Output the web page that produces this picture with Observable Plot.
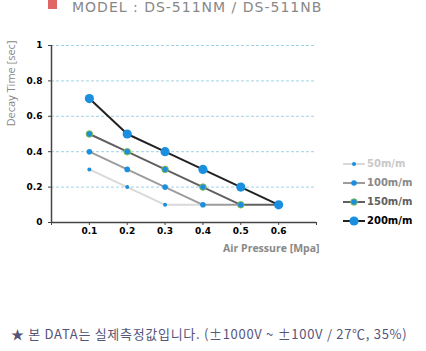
<!DOCTYPE html>
<html>
<head>
<meta charset="utf-8">
<script src="https://cdn.jsdelivr.net/npm/d3@7"></script>
<script src="https://cdn.jsdelivr.net/npm/@observablehq/plot@0.6"></script>
<style>
  html, body { margin: 0; padding: 0; background: #fff; }
  #wrap { position: relative; width: 426px; height: 351px; overflow: hidden; }
  #title { position: absolute; left: 48px; top: 0; height: 14px; font: 14px "DejaVu Sans", sans-serif; color: #888; white-space: nowrap; }
  #title .sq { position: absolute; left: 0; top: 0; width: 9px; height: 9px; background: #e06666; }
  #title .txt { position: absolute; left: 24px; top: -1.4px; line-height: 16px; letter-spacing: 1px; }
  #chart { position: absolute; left: 0; top: 0; }
  #legend { position: absolute; left: 343px; top: 0; }
  .li { position: absolute; left: 0; height: 12px; white-space: nowrap; font: bold 10px "DejaVu Sans", sans-serif; }
  .li svg { position: absolute; left: 0; top: 0; }
  .li span { position: absolute; left: 24px; top: -1px; line-height: 14px; }
  #foot { position: absolute; left: 11px; top: 326px; font: 13px "Noto Sans CJK KR", sans-serif; color: #55557a; white-space: nowrap; line-height: 16px; letter-spacing: 0.7px; }
</style>
</head>
<body>
<div id="wrap">
  <div id="chart"></div>
  <div id="title"><div class="sq"></div><div class="txt">MODEL : DS-511NM / DS-511NB</div></div>
  <div id="legend"></div>
  <div id="foot">★ 본 DATA는 실제측정값입니다. (±1000V ~ ±100V / 27℃, 35%)</div>
</div>
<script>
// ---- data ----
const pressure = [0.1, 0.2, 0.3, 0.4, 0.5, 0.6];
const seriesNames = ["50m/m", "100m/m", "150m/m", "200m/m"];
const decay50  = [0.3, 0.2, 0.1, 0.1, null, null];
const decay100 = [0.4, 0.3, 0.2, 0.1, 0.1, null];
const decay150 = [0.5, 0.4, 0.3, 0.2, 0.1, 0.1];
const decay200 = [0.7, 0.5, 0.4, 0.3, 0.2, 0.1];
const xTicks = [0, 0.1, 0.2, 0.3, 0.4, 0.5, 0.6, 0.7];
const xTickLabels = ["", "0.1", "0.2", "0.3", "0.4", "0.5", "0.6", ""];
const yTicks = [0, 0.2, 0.4, 0.6, 0.8, 1];
const yTickLabels = ["0", "0.2", "0.4", "0.6", "0.8", "1"];
const xLabel = "Air Pressure [Mpa]";
const yLabel = "Decay Time [sec]";

// styles per series
const lineColors = ["#d9d9d9", "#9c9c9c", "#606060", "#222222"];
const textColors = ["#c8c8c8", "#888888", "#606060", "#000000"];
const dotR = [2, 2.8, 3.3, 4.6];
const dotStroke = ["none", "none", "#8cbf3f", "none"];

const allValues = [decay50, decay100, decay150, decay200];
const rows = [];
allValues.forEach((vals, si) => {
  vals.forEach((v, i) => {
    if (v != null) rows.push({ series: seriesNames[si], si, x: pressure[i], y: v });
  });
});

const marks = [
  Plot.gridY(yTicks.filter(d => d > 0), { stroke: "#9fd3e6", strokeOpacity: 1, strokeDasharray: "3,2", strokeWidth: 1 }),
  Plot.ruleY([0], { stroke: "#444", strokeWidth: 1.5 }),
  Plot.ruleX([0], { stroke: "#444", strokeWidth: 1.5 }),
  Plot.axisX({ ticks: xTicks, tickFormat: d => xTickLabels[xTicks.indexOf(d)] ?? "", tickSize: 3, tickPadding: 2, stroke: "#444",
    fontSize: 9, fontWeight: "bold", fill: "#000", label: null, fontFamily: "DejaVu Sans" }),
  Plot.axisY({ ticks: yTicks, tickFormat: d => yTickLabels[yTicks.indexOf(d)] ?? "", tickSize: 3, tickPadding: 6, stroke: "#444",
    fontSize: 9, fontWeight: "bold", fill: "#000", label: null, fontFamily: "DejaVu Sans" }),
  Plot.text([xLabel], { frameAnchor: "bottom-right", dx: 3, dy: 29, fill: "#888", fontSize: 10.5, fontWeight: "bold", fontFamily: "Open Sans", text: d => d, textAnchor: "end" }),
  Plot.text([yLabel], { frameAnchor: "top-left", dx: -44, dy: -5, rotate: -90, textAnchor: "end", fill: "#888", fontSize: 11, fontFamily: "Open Sans", text: d => d })
];
seriesNames.forEach((s, si) => {
  marks.push(Plot.line(rows.filter(r => r.si === si), { x: "x", y: "y", stroke: lineColors[si], strokeWidth: 2 }));
});
seriesNames.forEach((s, si) => {
  marks.push(Plot.dot(rows.filter(r => r.si === si), { x: "x", y: "y", r: dotR[si], fill: "#1a8fe0", stroke: dotStroke[si], strokeWidth: 0.9 }));
});

const chart = Plot.plot({
  width: 426,
  height: 270,
  marginLeft: 51,
  marginRight: 110,
  marginTop: 45,
  marginBottom: 48,
  x: { domain: [0, 0.7] },
  y: { domain: [0, 1] },
  style: { background: "transparent", overflow: "visible" },
  marks
});
document.getElementById("chart").appendChild(chart);

// legend (HTML)
const legend = document.getElementById("legend");
const rowY = [164, 183, 202, 221];
seriesNames.forEach((s, si) => {
  const d = document.createElement("div");
  d.className = "li";
  d.style.top = (rowY[si] - 6) + "px";
  d.innerHTML = `<svg width="24" height="12"><line x1="0" x2="22" y1="6" y2="6" stroke="${lineColors[si]}" stroke-width="2"/><circle cx="11" cy="6" r="${dotR[si]}" fill="#1a8fe0" stroke="${dotStroke[si]}" stroke-width="0.9"/></svg><span style="color:${textColors[si]}">${s}</span>`;
  legend.appendChild(d);
});
</script>
</body>
</html>
